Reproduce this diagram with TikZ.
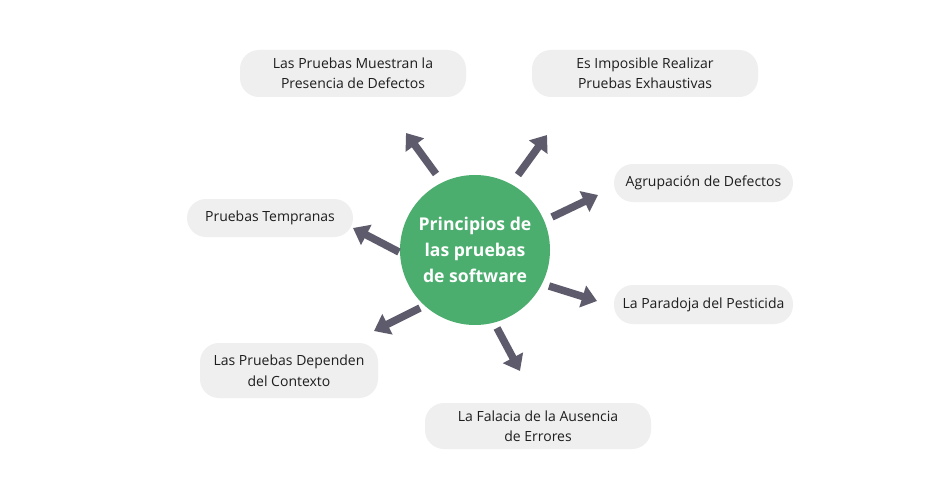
\documentclass[tikz,border=0pt]{standalone}
\usepackage{fontspec}
\setmainfont{Open Sans}
\usetikzlibrary{arrows.meta}
\definecolor{cgreen}{HTML}{4BAE6F}
\definecolor{carrow}{HTML}{5E5C6C}
\definecolor{cbox}{HTML}{EFEFEF}
\definecolor{ctext}{HTML}{1E1E1E}
\tikzset{
  pbox/.style={fill=cbox, draw=none, rounded corners=19pt, inner sep=0pt,
    align=center, text=ctext, font=\fontsize{14}{20.5}\selectfont},
  arr/.style={draw=carrow, line width=7.5pt,
    -{Triangle[width=22pt,length=15pt]}, shorten >=0pt},
}
\begin{document}
\begin{tikzpicture}[x=1pt,y=-1pt]
\useasboundingbox (0,0) rectangle (950,500);
\fill[white] (0,0) rectangle (950,500);

\node[circle, fill=cgreen, minimum size=150pt, inner sep=0pt, align=center,
  text=white, font=\fontsize{17.6}{26}\selectfont\bfseries] (c) at (475,250)
  {Principios de\\las pruebas\\de software};

\node[pbox, minimum width=226pt, minimum height=47pt] (b1) at (353,73.5)
  {Las Pruebas Muestran la\\Presencia de Defectos};
\node[pbox, minimum width=226pt, minimum height=47pt] (b2) at (645,73.5)
  {Es Imposible Realizar\\Pruebas Exhaustivas};
\node[pbox, minimum width=179pt, minimum height=38pt] (b3) at (703.5,183)
  {Agrupación de Defectos};
\node[pbox, minimum width=166pt, minimum height=38pt] (b7) at (270,218)
  {Pruebas Tempranas};
\node[pbox, minimum width=179pt, minimum height=39pt] (b4) at (703.5,304.5)
  {La Paradoja del Pesticida};
\node[pbox, minimum width=178pt, minimum height=55pt] (b6) at (289,370.5)
  {Las Pruebas Dependen\\del Contexto};
\node[pbox, minimum width=226pt, minimum height=46pt] (b5) at (538,426)
  {La Falacia de la Ausencia\\de Errores};

\coordinate (t1) at (436,174); \coordinate (h1) at (406,133);
\coordinate (t2) at (518,175); \coordinate (h2) at (547,135);
\coordinate (t3) at (552,217); \coordinate (h3) at (598,195);
\coordinate (t4) at (549,286); \coordinate (h4) at (597,301);
\coordinate (t5) at (497,328); \coordinate (h5) at (520,371);
\coordinate (t6) at (420,308); \coordinate (h6) at (374,331);
\coordinate (t7) at (399,252); \coordinate (h7) at (353,228);

\foreach \i in {1,...,7} {\draw[arr] (t\i) -- (h\i);}
\end{tikzpicture}
\end{document}
